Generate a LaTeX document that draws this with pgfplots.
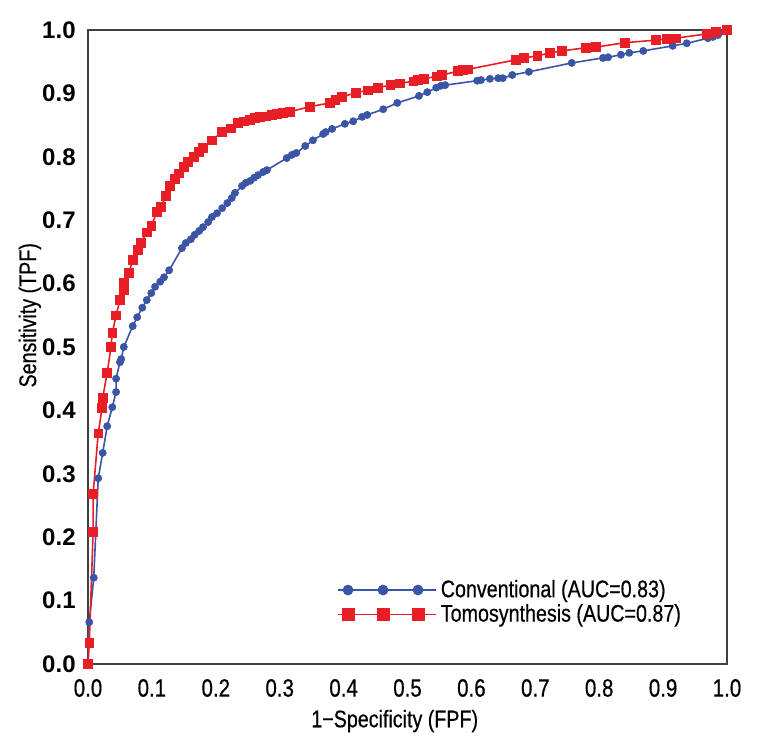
\documentclass[border=0pt]{standalone}
\usepackage{pgfplots}
\pgfplotsset{compat=1.18}
\usepackage{pgfplotstable}
\usepackage{fontspec}
\setmainfont{Liberation Sans}[FakeStretch=0.82, FakeBold=0.5]
\newfontfamily\yfont{Liberation Sans}
\definecolor{cblue}{RGB}{58,84,166}
\definecolor{cred}{RGB}{232,30,38}

\pgfplotstableread{
x y
0.000 0.000
0.002 0.066
0.009 0.136
0.016 0.293
0.023 0.333
0.030 0.375
0.038 0.405
0.044 0.429
0.044 0.450
0.050 0.476
0.052 0.481
0.056 0.500
0.070 0.533
0.077 0.547
0.085 0.562
0.092 0.574
0.099 0.585
0.105 0.595
0.113 0.603
0.119 0.610
0.127 0.621
0.147 0.656
0.153 0.664
0.161 0.670
0.167 0.677
0.174 0.683
0.180 0.689
0.188 0.697
0.194 0.705
0.202 0.711
0.210 0.719
0.218 0.727
0.225 0.735
0.230 0.743
0.241 0.754
0.247 0.759
0.254 0.762
0.260 0.767
0.266 0.771
0.274 0.776
0.280 0.779
0.311 0.798
0.319 0.803
0.326 0.806
0.340 0.817
0.352 0.826
0.368 0.836
0.372 0.839
0.382 0.844
0.402 0.852
0.415 0.856
0.429 0.863
0.437 0.866
0.462 0.875
0.484 0.885
0.518 0.896
0.531 0.902
0.545 0.909
0.552 0.912
0.559 0.913
0.609 0.920
0.615 0.921
0.629 0.923
0.642 0.924
0.649 0.924
0.664 0.929
0.690 0.934
0.757 0.948
0.806 0.956
0.814 0.957
0.834 0.961
0.847 0.964
0.869 0.967
0.915 0.975
0.937 0.979
0.970 0.987
0.978 0.989
0.986 0.992
0.997 0.998
1.000 1.000
}\conventional

\pgfplotstableread{
x y
0.000 0.000
0.002 0.033
0.008 0.208
0.008 0.268
0.016 0.364
0.022 0.404
0.023 0.420
0.030 0.459
0.036 0.500
0.038 0.522
0.044 0.550
0.050 0.574
0.056 0.590
0.056 0.601
0.064 0.617
0.070 0.637
0.078 0.653
0.083 0.664
0.092 0.681
0.099 0.691
0.108 0.713
0.114 0.721
0.122 0.738
0.128 0.754
0.136 0.765
0.142 0.774
0.150 0.784
0.156 0.792
0.166 0.800
0.174 0.808
0.180 0.814
0.194 0.826
0.210 0.839
0.224 0.845
0.235 0.853
0.244 0.856
0.253 0.858
0.261 0.861
0.269 0.863
0.279 0.864
0.288 0.866
0.296 0.868
0.305 0.869
0.316 0.871
0.347 0.879
0.379 0.885
0.387 0.890
0.397 0.894
0.419 0.901
0.438 0.905
0.454 0.909
0.473 0.913
0.488 0.916
0.509 0.919
0.516 0.921
0.526 0.923
0.546 0.927
0.554 0.929
0.579 0.935
0.587 0.937
0.595 0.938
0.670 0.953
0.682 0.956
0.703 0.959
0.723 0.964
0.742 0.967
0.779 0.972
0.795 0.973
0.840 0.980
0.889 0.984
0.906 0.986
0.920 0.987
0.969 0.994
0.983 0.997
1.000 1.000
}\tomo

\begin{document}
\begin{tikzpicture}
\path[use as bounding box] (-44pt,-44.5pt) rectangle (336pt,332pt);
\begin{axis}[
  at={(0,0)}, anchor=south west,
  width=319.5pt, height=317pt, scale only axis,
  xmin=0, xmax=1, ymin=0, ymax=1,
  xtick={0,0.1,0.2,0.3,0.4,0.5,0.6,0.7,0.8,0.9,1.0},
  ytick={0,0.1,0.2,0.3,0.4,0.5,0.6,0.7,0.8,0.9,1.0},
  major tick length=0pt,
  axis line style={draw=black!75, line width=0.7pt},
  /pgf/number format/assume math mode=true,
  /pgf/number format/.cd, fixed, fixed zerofill, precision=1, /pgfplots/.cd,
  xticklabel style={font=\fontsize{12.5}{14}\selectfont, anchor=center, yshift=-12pt},
  yticklabel style={font=\yfont\bfseries\fontsize{12}{14}\selectfont, anchor=east, inner sep=0pt, xshift=-6pt},
  xlabel={1−Specificity (FPF)},
  ylabel={Sensitivity (TPF)},
  label style={font=\fontsize{12}{14}\selectfont},
  xlabel style={at={(axis description cs:0.48,-0.09)}, anchor=center},
  ylabel style={at={(axis description cs:-0.091,0.55)}, anchor=center, rotate=0},
  legend style={at={(axis cs:0.38,0.146)}, anchor=north west, draw=none, fill=none,
    font=\fontsize{12}{14}\selectfont, row sep=-2pt},
  legend cell align=left,
  legend image code/.code={
    \path (0pt,0pt) -- (49pt,0pt);
    \draw[#1, mark=none] (0pt,0pt) -- (45pt,0pt);
    \draw[#1, only marks, every mark/.append style={scale=1.4}] plot coordinates {(5pt,0pt) (22.5pt,0pt) (40pt,0pt)};
  },
]
\addplot[color=cblue, line width=0.8pt, mark=*, mark size=1.8pt, mark options={fill=cblue, draw=cblue, line width=0.3pt}] table[x=x,y=y] {\conventional};
\addlegendentry{Conventional (AUC=0.83)}
\addplot[color=cred, line width=0.8pt, mark=square*, mark size=2.2pt, mark options={fill=cred, draw=cred, line width=0.3pt}] table[x=x,y=y] {\tomo};
\addlegendentry{Tomosynthesis (AUC=0.87)}
\end{axis}
\end{tikzpicture}
\end{document}
